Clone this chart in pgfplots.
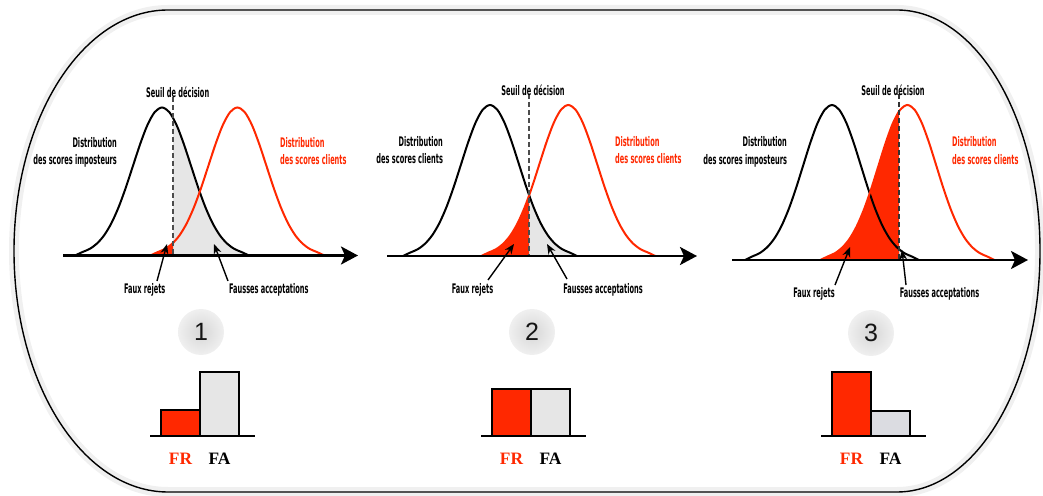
\documentclass[border=0pt]{standalone}
\usepackage{pgfplots}
\pgfplotsset{compat=1.18}
\usepackage{pgfplotstable}
\usepgfplotslibrary{fillbetween}
\usetikzlibrary{arrows.meta}
\usepackage{fontspec}
\setmainfont{DejaVu Sans}
\newfontfamily\lab[FakeStretch=0.5]{DejaVu Sans}
\newfontfamily\num{Liberation Sans}
\newfontfamily\barfont{Liberation Serif}

\definecolor{frred}{RGB}{255,40,0}
\definecolor{fagray}{RGB}{230,230,230}
\definecolor{fagraybis}{RGB}{219,220,225}

% Score density (standardised); r and s are the client curves shifted
\pgfplotstableread{
z     g      r     s
-3.0  0      -0.4  -0.3
-2.75 0.0228 -0.15 -0.05
-2.5  0.0439 0.1   0.2
-2.25 0.0796 0.35  0.45
-2.0  0.1353 0.6   0.7
-1.75 0.2163 0.85  0.95
-1.5  0.3247 1.1   1.2
-1.25 0.4578 1.35  1.45
-1.0  0.6065 1.6   1.7
-0.75 0.7548 1.85  1.95
-0.5  0.8825 2.1   2.2
-0.25 0.9692 2.35  2.45
0     1      2.6   2.7
0.25  0.9692 2.85  2.95
0.5   0.8825 3.1   3.2
0.75  0.7548 3.35  3.45
1.0   0.6065 3.6   3.7
1.25  0.4578 3.85  3.95
1.5   0.3247 4.1   4.2
1.75  0.2163 4.35  4.45
2.0   0.1353 4.6   4.7
2.25  0.0796 4.85  4.95
2.5   0.0439 5.1   5.2
2.75  0.0228 5.35  5.45
3.0   0      5.6   5.7
}\scores

\pgfplotsset{
  curves/.style={scale only axis, anchor=south west, ymin=0, ymax=1,
    axis x line=bottom, axis y line=none, xtick=\empty, clip=false,
    set layers, axis on top,
    x axis line style={line width=1.3pt, -{Stealth[length=8.5pt,width=9pt,inset=2pt]}}},
  minibars/.style={scale only axis, anchor=south west, width=52.5pt, height=35pt,
    xmin=0, xmax=105, ymin=0, ymax=70, axis x line=bottom, axis y line=none,
    x axis line style={-, line width=1pt}, xtick={30.5,69.5},
    xticklabels={\textcolor{frred}{FR},FA}, major tick length=0pt,
    xticklabel style={font=\barfont\bfseries\fontsize{8.7}{9}\selectfont, yshift=-5pt},
    clip=false, ybar, bar width=39},
  imp/.style={black, line width=1pt, smooth},
  cli/.style={frred, line width=1pt, smooth},
  barfr/.style={fill=frred, draw=black, line width=1.4pt, bar shift=0pt},
  barfa/.style={fill=fagray, draw=black, line width=1.4pt, bar shift=0pt},
}

\newcommand{\labfont}{\lab\bfseries\fontsize{6.6}{7.5}\selectfont}

\begin{document}
\begin{tikzpicture}
\begin{scope}[x=0.5pt,y=-0.5pt]
  % frame
  \draw[line width=0.7pt, preaction={draw, black!6, line width=5pt}]
    (168,10) -- (897,10)
    arc[start angle=90, end angle=-90, x radius=71.5pt, y radius=120.5pt]
    -- (168,492)
    arc[start angle=270, end angle=90, x radius=77pt, y radius=120.5pt]
    -- cycle;
  % numbered discs
  \foreach \cx/\cy/\n in {201/332/1, 532/332/2, 871/333/3}{
    \shade[inner color=black!16, outer color=black!6] (\cx,\cy) circle[radius=11.5pt];
    \node[font=\num\fontsize{12.5}{13}\selectfont, text=black!92] at (\cx,\cy) {\n};
  }
\end{scope}

% ---- panel 1
\begin{axis}[curves, at={(31.5pt,-127.75pt)}, width=147.5pt, height=74pt, xmin=-3.414, xmax=6.759]
  \addplot[imp, name path=imp] table[x=z,y=g]{\scores};
  \addplot[cli, name path=cli] table[x=r,y=g]{\scores};
  \path[name path=base] (axis cs:-4,0) -- (axis cs:8,0);
  \addplot[fagray] fill between[of=imp and base, soft clip={domain=0.38:3}];
  \addplot[frred] fill between[of=cli and base, soft clip={domain=-1:0.38}];
\end{axis}
% ---- panel 2
\begin{axis}[curves, at={(193.5pt,-128pt)}, width=155pt, height=75.5pt, xmin=-3.552, xmax=7.138]
  \addplot[imp, name path=imp] table[x=z,y=g]{\scores};
  \addplot[cli, name path=cli] table[x=s,y=g]{\scores};
  \path[name path=base] (axis cs:-4,0) -- (axis cs:8,0);
  \addplot[fagray] fill between[of=imp and base, soft clip={domain=1.345:3}];
  \addplot[frred] fill between[of=cli and base, soft clip={domain=-1:1.345}];
\end{axis}
% ---- panel 3
\begin{axis}[curves, at={(366pt,-130pt)}, width=148pt, height=77.5pt, xmin=-3.448, xmax=6.759]
  \addplot[imp, name path=imp] table[x=z,y=g]{\scores};
  \addplot[cli, name path=cli] table[x=r,y=g]{\scores};
  \path[name path=base] (axis cs:-4,0) -- (axis cs:8,0);
  \addplot[fagray] fill between[of=imp and base, soft clip={domain=2.31:3}];
  \addplot[frred] fill between[of=cli and base, soft clip={domain=-1:2.31}];
\end{axis}

% ---- FR / FA bars
\begin{axis}[minibars, at={(75pt,-218pt)}]
  \addplot[barfr] coordinates {(30.5,26)};
  \addplot[barfa] coordinates {(69.5,64)};
\end{axis}
\begin{axis}[minibars, at={(240.5pt,-218pt)}]
  \addplot[barfr] coordinates {(30.5,47)};
  \addplot[barfa] coordinates {(69.5,47)};
\end{axis}
\begin{axis}[minibars, at={(410.5pt,-218pt)}]
  \addplot[barfr] coordinates {(30.5,64)};
  \addplot[barfa, fill=fagraybis] coordinates {(69.5,25)};
\end{axis}

% ---- thresholds and annotations
\begin{scope}[x=0.5pt,y=-0.5pt, font=\labfont]
  \draw[black!70, line width=0.6pt, dash pattern=on 2.5pt off 1.5pt] (173,97) -- (173,255.5);
  \draw[black!70, line width=0.6pt, dash pattern=on 2.5pt off 1.5pt] (529,94) -- (529,256);
  \draw[black!80, line width=0.6pt, dash pattern=on 2.5pt off 1.5pt] (899,94) -- (899,260);

  \node[anchor=base] at (177.7,98) {Seuil de décision};
  \node[anchor=base] at (533,95.5) {Seuil de décision};
  \node[anchor=base] at (893,95.5) {Seuil de décision};

  \node[anchor=base east] at (124,148) {Distribution};
  \node[anchor=base east] at (124,165) {des scores imposteurs};
  \node[anchor=base west, text=frred] at (273,148) {Distribution};
  \node[anchor=base west, text=frred] at (273,165) {des scores clients};

  \node[anchor=base east] at (450,147) {Distribution};
  \node[anchor=base east] at (450,164) {des scores clients};
  \node[anchor=base west, text=frred] at (608,147) {Distribution};
  \node[anchor=base west, text=frred] at (608,164) {des scores clients};

  \node[anchor=base east] at (794,147) {Distribution};
  \node[anchor=base east] at (794,164.5) {des scores imposteurs};
  \node[anchor=base west, text=frred] at (945,147) {Distribution};
  \node[anchor=base west, text=frred] at (945,164.5) {des scores clients};

  \node[anchor=base] at (144.7,294) {Faux rejets};
  \node[anchor=base] at (268.8,294) {Fausses acceptations};
  \node[anchor=base] at (472.5,294) {Faux rejets};
  \node[anchor=base] at (603,294) {Fausses acceptations};
  \node[anchor=base] at (814,298) {Faux rejets};
  \node[anchor=base] at (939.5,298) {Fausses acceptations};

  \begin{scope}[line width=0.7pt, -{Stealth[length=5pt,width=4pt]}]
    \draw (157,281) -- (167,244);
    \draw (228,281) -- (214,244);
    \draw (488,280) -- (514,244);
    \draw (567,279) -- (547,244);
    \draw (835,285) -- (850,247);
    \draw (906,285) -- (902,250);
  \end{scope}
\end{scope}
% page covers the whole 1043 x 496 frame area
\pgfresetboundingbox
\useasboundingbox (0pt,0pt) rectangle (521.5pt,-248pt);
\end{tikzpicture}
\end{document}
